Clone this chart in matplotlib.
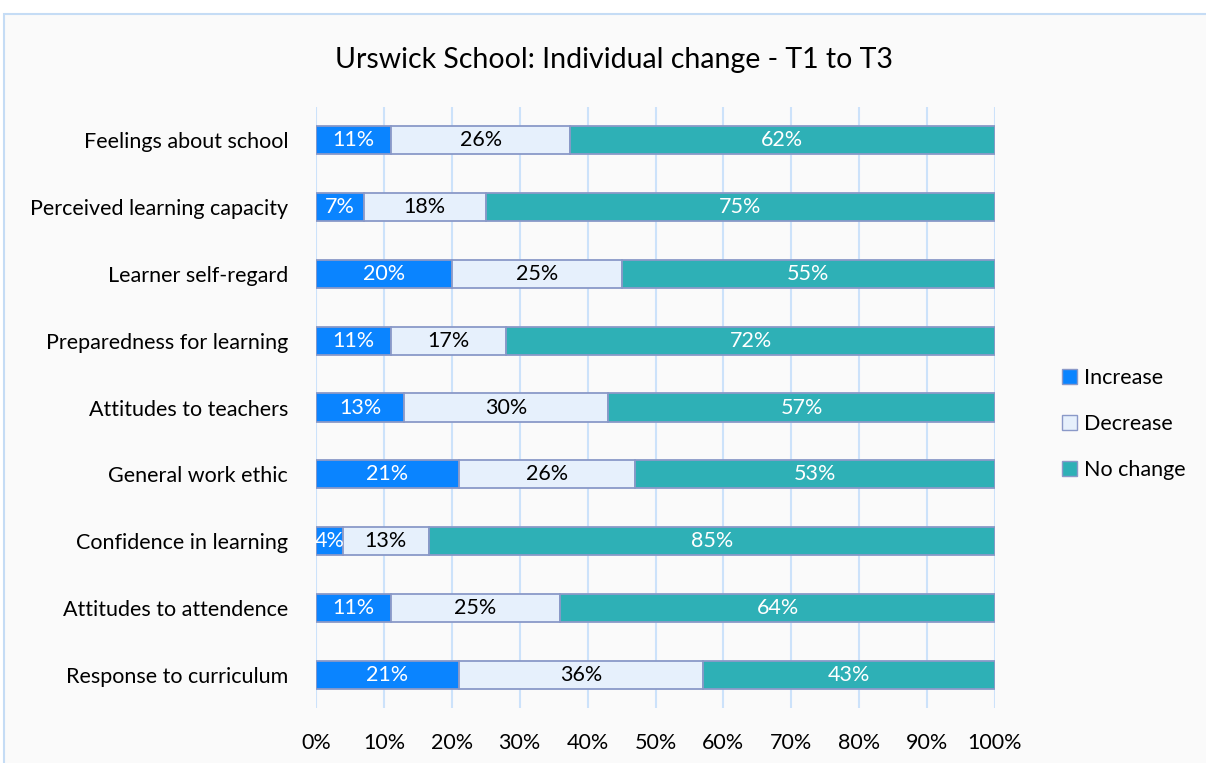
import matplotlib
matplotlib.use("Agg")
from matplotlib import pyplot as plt
from matplotlib.patches import Rectangle, Patch
import numpy as np

plt.rcParams['font.family'] = ['Lato', 'DejaVu Sans']

# data, top to bottom as in the chart
categories = ['Feelings about school', 'Perceived learning capacity', 'Learner self-regard',
              'Preparedness for learning', 'Attitudes to teachers', 'General work ethic',
              'Confidence in learning', 'Attitudes to attendence', 'Response to curriculum']
increase = [11, 7, 20, 11, 13, 21, 4, 11, 21]
decrease = [26, 18, 25, 17, 30, 26, 13, 25, 36]
no_change = [62, 75, 55, 72, 57, 53, 85, 64, 43]
series_names = ['Increase', 'Decrease', 'No change']
colors = ['#0A84FF', '#E6F0FC', '#2EB0B6']
text_colors = ['white', 'black', 'white']
xticks = [0, 10, 20, 30, 40, 50, 60, 70, 80, 90, 100]

fs = 15.5

fig = plt.figure(figsize=(12.06, 7.63), dpi=100, facecolor='white')
# chart area frame (runs off right/bottom like the screenshot)
fig.patches.append(Rectangle((4 / 1206, -0.1), 1.2, 1 - 14 / 763 + 0.1, transform=fig.transFigure,
                             facecolor='#FAFAFA', edgecolor='#C5DCF5', linewidth=1.5, zorder=-10))

ax = fig.add_axes([316 / 1206, 1 - 708 / 763, (995 - 316) / 1206, (708 - 107) / 763])
ax.set_facecolor('none')

vals = np.array([increase, decrease, no_change], dtype=float)
pct = vals / vals.sum(axis=0) * 100  # 100% stacked
y = np.arange(len(categories))[::-1]
left = np.zeros(len(categories))
for i in range(3):
    ax.barh(y, pct[i], left=left, height=0.42, color=colors[i], edgecolor='#8A99C8',
            linewidth=1.3, zorder=3, label=series_names[i])
    for yy, l, w, v in zip(y, left, pct[i], vals[i]):
        ax.text(l + w / 2, yy, f'{int(v)}%', ha='center', va='center', fontsize=fs,
                color=text_colors[i], zorder=4, clip_on=False)
    left += pct[i]

ax.set_xlim(0, 100)
ax.set_ylim(-0.5, len(categories) - 0.5)
ax.set_xticks(xticks)
ax.set_xticklabels([f'{t}%' for t in xticks], fontsize=fs)
ax.set_yticks(y)
ax.set_yticklabels(categories, fontsize=fs)
ax.tick_params(axis='both', length=0)
ax.tick_params(axis='y', pad=20)
ax.tick_params(axis='x', pad=18)
ax.grid(axis='x', color='#CCE2FA', linewidth=1.5, zorder=0)
for s in ax.spines.values():
    s.set_visible(False)

fig.text(614 / 1206, 1 - 60 / 763, 'Urswick School: Individual change - T1 to T3',
         ha='center', va='center', fontsize=20.5)

handles = [Patch(facecolor=c, edgecolor='#8A99C8', linewidth=1.0) for c in colors]
fig.legend(handles, series_names, loc='center left', bbox_to_anchor=(1043 / 1206, 1 - 424 / 763),
           frameon=False, fontsize=fs, handlelength=0.7, handleheight=0.7,
           handletextpad=0.3, labelspacing=1.2)

fig.savefig('out.png', dpi=100, facecolor='white')
